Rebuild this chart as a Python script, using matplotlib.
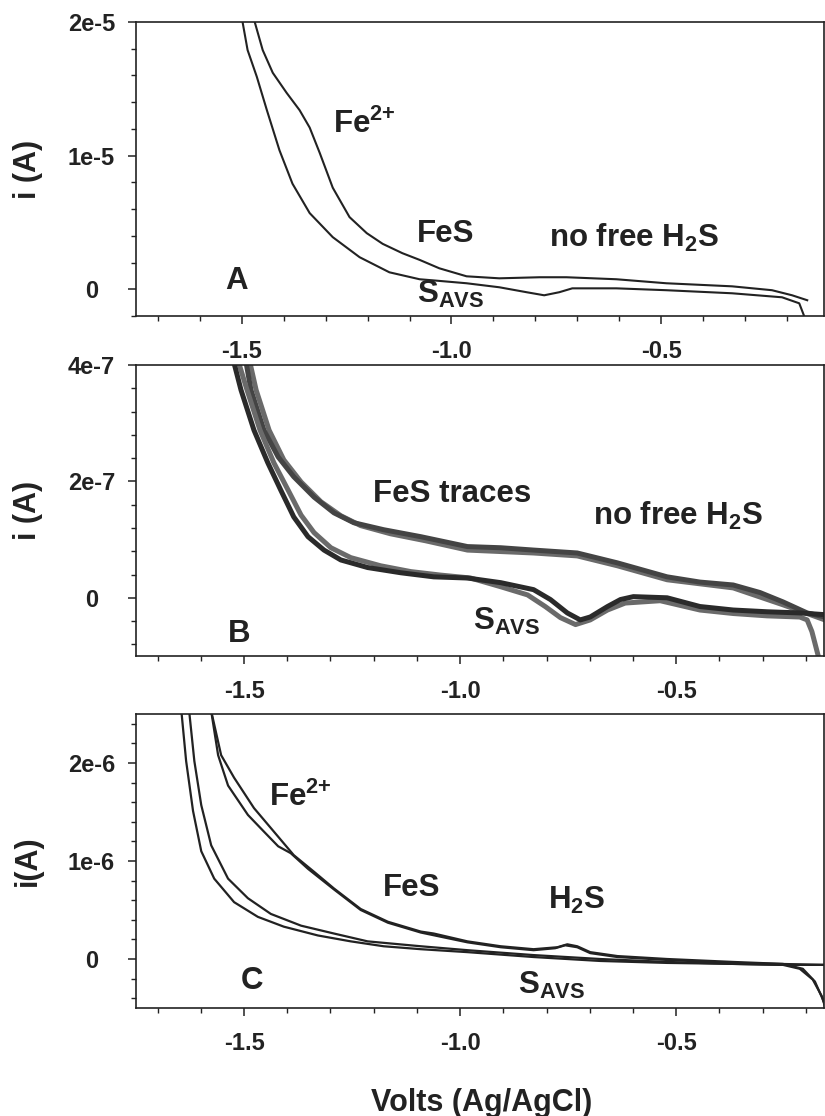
import numpy as np
import matplotlib
matplotlib.use("Agg")
import matplotlib.pyplot as plt
from matplotlib.ticker import MultipleLocator

plt.rcParams['font.family'] = ['Liberation Sans', 'DejaVu Sans']
plt.rcParams['font.weight'] = 'bold'
plt.rcParams['mathtext.fontset'] = 'custom'
plt.rcParams['mathtext.default'] = 'regular'

INK = '#222222'

# ---- panel A (current in 1e-5 A) ----
a_up_v = [-1.475, -1.469, -1.450, -1.426, -1.393, -1.362, -1.338, -1.314, -1.283, -1.243, -1.202,
          -1.164, -1.117, -1.076, -1.029, -0.964, -0.886, -0.790, -0.726, -0.607, -0.488, -0.331,
          -0.236, -0.188, -0.152]
a_up_i = [2.30, 2.00, 1.79, 1.62, 1.47, 1.34, 1.21, 1.02, 0.76, 0.54, 0.42,
          0.34, 0.27, 0.22, 0.157, 0.097, 0.082, 0.090, 0.090, 0.075, 0.045, 0.022,
          -0.007, -0.045, -0.082]
a_lo_v = [-1.505, -1.498, -1.486, -1.464, -1.440, -1.410, -1.379, -1.338, -1.283, -1.219, -1.148,
          -1.076, -1.045, -0.964, -0.886, -0.821, -0.779, -0.743, -0.712, -0.607, -0.488, -0.331,
          -0.212, -0.171, -0.160]
a_lo_i = [2.30, 2.00, 1.79, 1.59, 1.34, 1.04, 0.79, 0.57, 0.39, 0.24, 0.127,
          0.075, 0.067, 0.045, 0.015, -0.022, -0.045, -0.022, 0.007, 0.007, -0.007, -0.030,
          -0.060, -0.105, -0.195]

# ---- panel B (current in 1e-7 A) ----
b_lo1_v = [-1.523, -1.507, -1.477, -1.445, -1.415, -1.385, -1.352, -1.315, -1.276, -1.214, -1.137,
           -1.061, -0.983, -0.906, -0.830, -0.791, -0.752, -0.722, -0.699, -0.659, -0.629, -0.599,
           -0.521, -0.445, -0.368, -0.290, -0.214, -0.156]
b_lo1_i = [4.03, 3.57, 2.88, 2.32, 1.85, 1.39, 1.05, 0.82, 0.65, 0.52, 0.43,
           0.36, 0.34, 0.26, 0.14, -0.03, -0.26, -0.38, -0.33, -0.15, -0.03, 0.02,
           0.00, -0.15, -0.21, -0.24, -0.26, -0.29]
b_lo2_v = [-1.512, -1.493, -1.463, -1.431, -1.398, -1.368, -1.338, -1.299, -1.253, -1.184, -1.114,
           -1.045, -0.976, -0.906, -0.844, -0.803, -0.768, -0.733, -0.699, -0.659, -0.618, -0.537,
           -0.445, -0.368, -0.290, -0.214, -0.197, -0.186, -0.172]
b_lo2_i = [4.03, 3.57, 2.88, 2.32, 1.85, 1.42, 1.12, 0.86, 0.69, 0.55, 0.45,
           0.39, 0.34, 0.19, 0.05, -0.15, -0.34, -0.46, -0.38, -0.21, -0.09, -0.05,
           -0.21, -0.27, -0.31, -0.33, -0.38, -0.58, -0.98]
b_up1_v = [-1.495, -1.484, -1.454, -1.421, -1.385, -1.338, -1.292, -1.246, -1.177, -1.091, -0.983,
           -0.906, -0.830, -0.729, -0.636, -0.521, -0.445, -0.368, -0.306, -0.253, -0.197, -0.156]
b_up1_i = [4.03, 3.57, 2.88, 2.42, 2.08, 1.73, 1.46, 1.29, 1.17, 1.05, 0.88,
           0.86, 0.82, 0.77, 0.60, 0.36, 0.27, 0.22, 0.09, -0.07, -0.26, -0.33]
b_up2_v = [-1.486, -1.472, -1.442, -1.408, -1.368, -1.322, -1.276, -1.230, -1.161, -1.080, -0.983,
           -0.830, -0.729, -0.636, -0.521, -0.368, -0.253, -0.156]
b_up2_i = [4.03, 3.57, 2.88, 2.37, 1.99, 1.65, 1.41, 1.24, 1.10, 0.98, 0.82,
           0.77, 0.72, 0.55, 0.31, 0.17, -0.12, -0.38]

# ---- panel C (current in 1e-6 A) ----
c1_v = [-1.650, -1.645, -1.634, -1.618, -1.599, -1.569, -1.523, -1.468, -1.408, -1.329, -1.253,
        -1.177, -1.091, -0.983, -0.830, -0.676, -0.521, -0.368, -0.253, -0.156]
c1_i = [2.80, 2.53, 2.02, 1.51, 1.10, 0.82, 0.58, 0.43, 0.33, 0.24, 0.18,
        0.13, 0.10, 0.07, 0.02, -0.02, -0.04, -0.05, -0.06, -0.06]
c2_v = [-1.632, -1.627, -1.615, -1.599, -1.576, -1.537, -1.491, -1.438, -1.368, -1.292, -1.214,
        -1.091, -0.983, -0.830, -0.676, -0.521, -0.368, -0.253, -0.214, -0.184, -0.163, -0.154]
c2_i = [2.80, 2.53, 2.02, 1.57, 1.16, 0.82, 0.62, 0.46, 0.34, 0.26, 0.18,
        0.13, 0.09, 0.04, 0.00, -0.03, -0.05, -0.06, -0.10, -0.21, -0.38, -0.51]
c3_v = [-1.580, -1.576, -1.553, -1.523, -1.477, -1.431, -1.385, -1.338, -1.292, -1.230, -1.167,
        -1.091, -1.061, -0.983, -0.906, -0.830, -0.775, -0.752, -0.729, -0.699, -0.636, -0.521,
        -0.368, -0.253, -0.207, -0.179, -0.161, -0.152]
c3_i = [2.80, 2.53, 2.08, 1.85, 1.54, 1.30, 1.06, 0.89, 0.72, 0.51, 0.38,
        0.28, 0.26, 0.18, 0.13, 0.10, 0.12, 0.15, 0.13, 0.07, 0.03, 0.00,
        -0.03, -0.05, -0.10, -0.23, -0.41, -0.51]
c4_v = [-1.580, -1.576, -1.560, -1.537, -1.491, -1.454, -1.421, -1.392, -1.352, -1.292, -1.230,
        -1.167, -1.091, -0.983, -0.906, -0.830, -0.780, -0.757, -0.729, -0.699, -0.636, -0.521,
        -0.368, -0.156]
c4_i = [2.80, 2.53, 2.08, 1.77, 1.47, 1.30, 1.15, 1.08, 0.92, 0.71, 0.50,
        0.37, 0.27, 0.17, 0.12, 0.09, 0.11, 0.14, 0.12, 0.06, 0.02, -0.01,
        -0.04, -0.06]

x_ticks = [-1.5, -1.0, -0.5]
x_tick_labels = ['-1.5', '-1.0', '-0.5']
a_yticks = [0, 1e-5, 2e-5]
a_ylabels = ['0', '1e-5', '2e-5']
b_yticks = [0, 2e-7, 4e-7]
b_ylabels = ['0', '2e-7', '4e-7']
c_yticks = [0, 1e-6, 2e-6]
c_ylabels = ['0', '1e-6', '2e-6']

fig = plt.figure(figsize=(8.25, 11.16), dpi=100)
L, W = 136 / 825, 688 / 825
axA = fig.add_axes([L, 1 - 316 / 1116, W, 294 / 1116])
axB = fig.add_axes([L, 1 - 656 / 1116, W, 291 / 1116])
axC = fig.add_axes([L, 1 - 1008 / 1116, W, 294 / 1116])


def style(ax, xlim, ylim, yticks, ylabels, yminor, ylabel):
    ax.set_xlim(*xlim)
    ax.set_ylim(*ylim)
    ax.set_xticks(x_ticks)
    ax.set_xticklabels(x_tick_labels)
    ax.xaxis.set_minor_locator(MultipleLocator(0.1))
    ax.set_yticks(yticks)
    ax.set_yticklabels(ylabels, ha='center')
    ax.yaxis.set_minor_locator(MultipleLocator(yminor))
    ax.tick_params(which='major', direction='out', length=6, width=1.1, color=INK,
                   labelsize=17, labelcolor=INK)
    ax.tick_params(which='minor', direction='out', length=3.5, width=1.0, color=INK)
    ax.tick_params(axis='y', which='major', pad=26)
    ax.tick_params(axis='x', which='major', pad=11)
    for s in ax.spines.values():
        s.set_color(INK)
        s.set_linewidth(1.2)
    ax.set_ylabel(ylabel, fontsize=22, fontweight='bold', color=INK)
    ax.yaxis.set_label_coords(-0.135, 0.5)


def label(ax, x, y, s, size=22.5):
    ax.text(x, y, s, fontsize=size, color=INK, ha='left', va='baseline')


# panel A
axA.plot(np.array(a_up_v), np.array(a_up_i) * 1e-5, color=INK, lw=1.5)
axA.plot(np.array(a_lo_v), np.array(a_lo_i) * 1e-5, color=INK, lw=1.5)
style(axA, (-1.752, -0.112), (-2e-6, 2e-5), a_yticks, a_ylabels, 2e-6, 'i (A)')
label(axA, -1.283, 1.17e-5, 'Fe$^{2{+}}$')
label(axA, -1.083, 0.35e-5, 'FeS')
label(axA, -0.767, 0.315e-5, 'no free H$_2$S')
label(axA, -1.081, -0.105e-5, 'S$_{AVS}$')
label(axA, -1.540, 0.0, 'A')

# panel B
axB.plot(np.array(b_up2_v), np.array(b_up2_i) * 1e-7, color='#6a6a6a', lw=3.6)
axB.plot(np.array(b_up1_v), np.array(b_up1_i) * 1e-7, color='#444444', lw=3.6)
axB.plot(np.array(b_lo2_v), np.array(b_lo2_i) * 1e-7, color='#6a6a6a', lw=3.6)
axB.plot(np.array(b_lo1_v), np.array(b_lo1_i) * 1e-7, color='#2a2a2a', lw=3.6)
style(axB, (-1.750, -0.158), (-1e-7, 4e-7), b_yticks, b_ylabels, 4e-8, 'i (A)')
label(axB, -1.202, 1.65e-7, 'FeS traces')
label(axB, -0.692, 1.25e-7, 'no free H$_2$S')
label(axB, -0.971, -0.55e-7, 'S$_{AVS}$')
label(axB, -1.537, -0.76e-7, 'B')

# panel C
for v, i in [(c1_v, c1_i), (c2_v, c2_i), (c3_v, c3_i), (c4_v, c4_i)]:
    axC.plot(np.array(v), np.array(i) * 1e-6, color=INK, lw=1.6)
style(axC, (-1.750, -0.158), (-0.5e-6, 2.5e-6), c_yticks, c_ylabels, 2e-7, 'i(A)')
label(axC, -1.442, 1.56e-6, 'Fe$^{2{+}}$')
label(axC, -1.179, 0.64e-6, 'FeS')
label(axC, -0.796, 0.51e-6, 'H$_2$S')
label(axC, -0.865, -0.36e-6, 'S$_{AVS}$')
label(axC, -1.507, -0.31e-6, 'C')

fig.text(482 / 825, 1 - 1103 / 1116, 'Volts (Ag/AgCl)', fontsize=22, color=INK,
         ha='center', va='center')

fig.savefig('out.png', dpi=100)
